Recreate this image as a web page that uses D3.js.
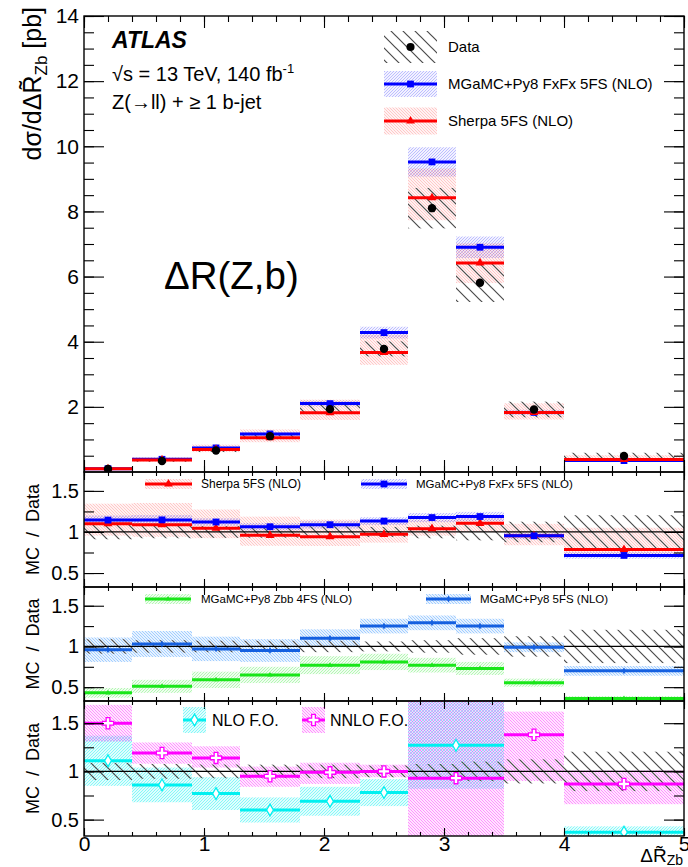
<!DOCTYPE html>
<html>
<head>
<meta charset="utf-8">
<script src="https://cdn.jsdelivr.net/npm/d3@7"></script>
<style>
  body { margin: 0; background: #fff; }
  svg text { font-family: "Liberation Sans", Arial, Helvetica, sans-serif; }
</style>
</head>
<body>
<svg id="chart" width="688" height="867"></svg>
<script>
// ---- binning ----
const binEdges = [0, 0.4, 0.9, 1.3, 1.8, 2.3, 2.7, 3.1, 3.5, 4, 5];
const foEdges  = [0, 0.4, 0.9, 1.3, 1.8, 2.3, 2.7, 3.5, 4, 5];

// ---- measured cross section [pb] ----
const dataXsec = [0.09, 0.34, 0.66, 1.10, 1.93, 3.78, 8.10, 5.81, 1.92, 0.49];
const dataErr  = [0.008, 0.026, 0.047, 0.077, 0.135, 0.23, 0.62, 0.59, 0.24, 0.10];

// ---- MGaMC+Py8 FxFx 5FS (NLO) ----
const fxfxXsec = [0.103, 0.39, 0.74, 1.17, 2.10, 4.28, 9.52, 6.90, 1.83, 0.35];
const fxfxErr  = [0.005, 0.02, 0.03, 0.05, 0.09, 0.18, 0.45, 0.33, 0.08, 0.02];

// ---- Sherpa 5FS (NLO) ----
const sherpaXsec = [0.099, 0.37, 0.69, 1.055, 1.82, 3.67, 8.42, 6.42, 1.83, 0.385];
const sherpaUp   = [0.022, 0.09, 0.15, 0.25, 0.40, 0.55, 0.90, 0.60, 0.28, 0.13];
const sherpaDn   = [0.013, 0.05, 0.08, 0.14, 0.22, 0.38, 0.69, 0.62, 0.22, 0.03];

// ---- ratio-only predictions (MC / Data) ----
const zbb4fsRatio = [0.43, 0.51, 0.59, 0.65, 0.77, 0.81, 0.77, 0.73, 0.555, 0.36];
const zbb4fsErr   = [0.06, 0.08, 0.10, 0.10, 0.11, 0.10, 0.09, 0.08, 0.05, 0.03];
const mg5fsRatio  = [0.96, 1.03, 0.97, 0.95, 1.10, 1.25, 1.29, 1.25, 0.99, 0.70];
const mg5fsErr    = [0.15, 0.16, 0.15, 0.14, 0.11, 0.09, 0.09, 0.09, 0.06, 0.06];

const nloRatio = [1.11, 0.86, 0.77, 0.60, 0.69, 0.78, 1.27, null, 0.37];
const nloErr   = [0.26, 0.18, 0.17, 0.13, 0.15, 0.14, 0.45, null, 0.06];
const nnloRatio = [1.50, 1.19, 1.14, 0.95, 0.99, 1.00, 0.93, 1.38, 0.87];
const nnloUp    = [0.19, 0.11, 0.12, 0.10, 0.10, 0.07, 0.85, 0.24, 0.14];
const nnloDn    = [0.19, 0.11, 0.10, 0.11, 0.12, 0.06, 0.70, 0.48, 0.21];

// ---- axis ticks ----
const xMajor = [0, 1, 2, 3, 4, 5];
const xMinor = d3.range(0, 5.001, 0.2);
const yMainMajor = [2, 4, 6, 8, 10, 12, 14];
const yMainMinor = d3.range(0.5, 14.001, 0.5);
const yRatioMajor = [0.5, 1, 1.5];
const yRatioMinor = [0.5, 0.75, 1, 1.25, 1.5];

// ---- colours ----
const RED = "#ff0000", BLUE = "#0000ff", GREEN = "#19e619", AZURE = "#1560e0",
      CYAN = "#00f0f0", MAGENTA = "#ff00ff";

// ---- layout ----
const L = 84, R = 684;
const P = {
  main: { top: 16,  bottom: 472 },
  r1:   { top: 472, bottom: 587 },
  r2:   { top: 587, bottom: 701 },
  r3:   { top: 701, bottom: 836 }
};
const x = d3.scaleLinear().domain([0, 5]).range([L, R]);
const yMain = d3.scaleLinear().domain([0, 14]).range([P.main.bottom, P.main.top]);
const ratioDomain = [0.33, 1.73];
const yR1 = d3.scaleLinear().domain(ratioDomain).range([P.r1.bottom, P.r1.top]);
const yR2 = d3.scaleLinear().domain(ratioDomain).range([P.r2.bottom, P.r2.top]);
const yR3 = d3.scaleLinear().domain(ratioDomain).range([P.r3.bottom, P.r3.top]);

const svg = d3.select("#chart");
const defs = svg.append("defs");

// hatch patterns
function hatch(id, { size, dir, stroke, width, opacity = 1, bg = null, bgOpacity = 0 }) {
  const p = defs.append("pattern").attr("id", id)
    .attr("patternUnits", "userSpaceOnUse").attr("width", size).attr("height", size);
  if (bg) p.append("rect").attr("width", size).attr("height", size)
    .attr("fill", bg).attr("fill-opacity", bgOpacity);
  const s = size;
  const d = dir === "\\"
    ? `M-1,${s - 1} l2,2 M0,0 l${s},${s} M${s - 1},-1 l2,2`
    : `M-1,1 l2,-2 M0,${s} l${s},${-s} M${s - 1},${s + 1} l2,-2`;
  p.append("path").attr("d", d).attr("stroke", stroke)
    .attr("stroke-width", width).attr("stroke-opacity", opacity);
}
hatch("hData",   { size: 12, dir: "\\", stroke: "#4a4a4a", width: 1.2 });
hatch("hFxfx",   { size: 3, dir: "/",  stroke: BLUE, width: 0.8, opacity: 0.28, bg: BLUE, bgOpacity: 0.05 });
hatch("hSherpa", { size: 3, dir: "\\", stroke: RED, width: 0.8, opacity: 0.22, bg: RED, bgOpacity: 0.05 });
hatch("hZbb",    { size: 3, dir: "/",  stroke: GREEN, width: 0.8, opacity: 0.35, bg: GREEN, bgOpacity: 0.07 });
hatch("h5fs",    { size: 3, dir: "\\", stroke: "#3c96ff", width: 0.9, opacity: 0.45, bg: "#3c96ff", bgOpacity: 0.12 });
hatch("hNlo",    { size: 3, dir: "/",  stroke: CYAN, width: 0.9, opacity: 0.45, bg: CYAN, bgOpacity: 0.12 });
hatch("hNnlo",   { size: 3, dir: "\\", stroke: MAGENTA, width: 0.9, opacity: 0.4, bg: MAGENTA, bgOpacity: 0.1 });

// clip regions per panel
Object.entries(P).forEach(([k, p]) => {
  defs.append("clipPath").attr("id", "clip-" + k).append("rect")
    .attr("x", L).attr("y", p.top).attr("width", R - L).attr("height", p.bottom - p.top);
});

const bins = edges => edges.slice(0, -1).map((e, i) => ({ i, x0: e, x1: edges[i + 1], xc: (e + edges[i + 1]) / 2 }));
const B = bins(binEdges);
const BF = bins(foEdges);

function bands(g, bs, y, lo, hi, fill) {
  g.append("g").selectAll("rect").data(bs.filter(b => lo[b.i] != null)).join("rect")
    .attr("x", b => x(b.x0)).attr("width", b => x(b.x1) - x(b.x0))
    .attr("y", b => y(hi[b.i])).attr("height", b => y(lo[b.i]) - y(hi[b.i]))
    .attr("fill", fill);
}
function steps(g, bs, y, val, color, w) {
  g.append("g").selectAll("line").data(bs.filter(b => val[b.i] != null)).join("line")
    .attr("x1", b => x(b.x0)).attr("x2", b => x(b.x1))
    .attr("y1", b => y(val[b.i])).attr("y2", b => y(val[b.i]))
    .attr("stroke", color).attr("stroke-width", w);
}
function markers(g, bs, y, val, type, size, fill, stroke, sw = 1) {
  g.append("g").selectAll("path").data(bs.filter(b => val[b.i] != null)).join("path")
    .attr("d", d3.symbol().type(type).size(size))
    .attr("transform", b => `translate(${x(b.xc)},${y(val[b.i])})`)
    .attr("fill", fill).attr("stroke", stroke).attr("stroke-width", sw);
}

// ---- axes / frames ----
function frame(p, y, yMaj, yMin, opt) {
  const g = svg.append("g");
  const clean = s => s.select(".domain").remove();
  const h = p.bottom - p.top;
  // y ticks, left and right
  g.append("g").attr("transform", `translate(${L},0)`)
    .call(d3.axisLeft(y).tickValues(yMin).tickSize(-10).tickFormat("")).call(clean);
  g.append("g").attr("transform", `translate(${R},0)`)
    .call(d3.axisRight(y).tickValues(yMin).tickSize(-10).tickFormat("")).call(clean);
  g.append("g").attr("transform", `translate(${R},0)`)
    .call(d3.axisRight(y).tickValues(yMaj).tickSize(-20).tickFormat("")).call(clean);
  const yl = g.append("g").attr("transform", `translate(${L},0)`)
    .call(d3.axisLeft(y).tickValues(yMaj).tickSize(-20).tickPadding(5).tickFormat(d3.format("~g"))).call(clean);
  yl.selectAll("text").attr("font-size", opt.yFont).attr("fill", "#000")
    .attr("font-family", "Liberation Sans, Arial, sans-serif");
  // x ticks, bottom and top
  g.append("g").attr("transform", `translate(0,${p.bottom})`)
    .call(d3.axisBottom(x).tickValues(xMinor).tickSize(-opt.xMinLen).tickFormat("")).call(clean);
  g.append("g").attr("transform", `translate(0,${p.top})`)
    .call(d3.axisTop(x).tickValues(xMinor).tickSize(-opt.xMinLen).tickFormat("")).call(clean);
  g.append("g").attr("transform", `translate(0,${p.bottom})`)
    .call(d3.axisBottom(x).tickValues(xMajor).tickSize(-opt.xMajLen).tickFormat("")).call(clean);
  g.append("g").attr("transform", `translate(0,${p.top})`)
    .call(d3.axisTop(x).tickValues(xMajor).tickSize(-opt.xMajLen).tickFormat("")).call(clean);
  g.selectAll(".tick line").attr("stroke", "#000").attr("stroke-width", 1.1);
  g.append("rect").attr("x", L).attr("y", p.top).attr("width", R - L).attr("height", h)
    .attr("fill", "none").attr("stroke", "#000").attr("stroke-width", 1.4);
  return g;
}

// ================= main panel =================
const gm = svg.append("g").attr("clip-path", "url(#clip-main)");
bands(gm, B, yMain, fxfxXsec.map((v, i) => v - fxfxErr[i]), fxfxXsec.map((v, i) => v + fxfxErr[i]), "url(#hFxfx)");
bands(gm, B, yMain, sherpaXsec.map((v, i) => v - sherpaDn[i]), sherpaXsec.map((v, i) => v + sherpaUp[i]), "url(#hSherpa)");
bands(gm, B, yMain, dataXsec.map((v, i) => v - dataErr[i]), dataXsec.map((v, i) => v + dataErr[i]), "url(#hData)");
steps(gm, B, yMain, fxfxXsec, BLUE, 3);
steps(gm, B, yMain, sherpaXsec, RED, 3);
markers(gm, B, yMain, fxfxXsec, d3.symbolSquare, 46, BLUE, "none");
markers(gm, B, yMain, sherpaXsec, d3.symbolTriangle, 34, RED, "none");
gm.append("g").selectAll("circle").data(B).join("circle")
  .attr("cx", b => x(b.xc)).attr("cy", b => yMain(dataXsec[b.i])).attr("r", 4.2).attr("fill", "#000");

frame(P.main, yMain, yMainMajor, yMainMinor, { yFont: 21, xMajLen: 12, xMinLen: 6 });

// ================= ratio panel 1 =================
const g1 = svg.append("g").attr("clip-path", "url(#clip-r1)");
const ratio = (mc, i) => mc / dataXsec[i];
bands(g1, B, yR1, sherpaXsec.map((v, i) => ratio(v - sherpaDn[i], i)), sherpaXsec.map((v, i) => ratio(v + sherpaUp[i], i)), "url(#hSherpa)");
bands(g1, B, yR1, fxfxXsec.map((v, i) => ratio(v - fxfxErr[i], i)), fxfxXsec.map((v, i) => ratio(v + fxfxErr[i], i)), "url(#hFxfx)");
bands(g1, B, yR1, dataXsec.map((v, i) => 1 - dataErr[i] / v), dataXsec.map((v, i) => 1 + dataErr[i] / v), "url(#hData)");
g1.append("line").attr("x1", L).attr("x2", R).attr("y1", yR1(1)).attr("y2", yR1(1)).attr("stroke", "#000").attr("stroke-width", 1.2);
steps(g1, B, yR1, sherpaXsec.map(ratio), RED, 3);
steps(g1, B, yR1, fxfxXsec.map(ratio), BLUE, 3);
markers(g1, B, yR1, sherpaXsec.map(ratio), d3.symbolTriangle, 34, RED, "none");
markers(g1, B, yR1, fxfxXsec.map(ratio), d3.symbolSquare, 46, BLUE, "none");
frame(P.r1, yR1, yRatioMajor, yRatioMinor, { yFont: 20, xMajLen: 8, xMinLen: 4 });

// ================= ratio panel 2 =================
const g2 = svg.append("g").attr("clip-path", "url(#clip-r2)");
bands(g2, B, yR2, zbb4fsRatio.map((v, i) => v - zbb4fsErr[i]), zbb4fsRatio.map((v, i) => v + zbb4fsErr[i]), "url(#hZbb)");
bands(g2, B, yR2, mg5fsRatio.map((v, i) => v - mg5fsErr[i]), mg5fsRatio.map((v, i) => v + mg5fsErr[i]), "url(#h5fs)");
bands(g2, B, yR2, dataXsec.map((v, i) => 1 - dataErr[i] / v), dataXsec.map((v, i) => 1 + dataErr[i] / v), "url(#hData)");
g2.append("line").attr("x1", L).attr("x2", R).attr("y1", yR2(1)).attr("y2", yR2(1)).attr("stroke", "#000").attr("stroke-width", 1.2);
steps(g2, B, yR2, zbb4fsRatio, GREEN, 3);
steps(g2, B, yR2, mg5fsRatio, AZURE, 3);
markers(g2, B, yR2, zbb4fsRatio, d3.symbolTriangle, 12, GREEN, "none");
markers(g2, B, yR2, mg5fsRatio, d3.symbolDiamond, 14, AZURE, "none");
frame(P.r2, yR2, yRatioMajor, yRatioMinor, { yFont: 20, xMajLen: 8, xMinLen: 4 });

// ================= ratio panel 3 =================
const g3 = svg.append("g").attr("clip-path", "url(#clip-r3)");
bands(g3, BF, yR3, nloRatio.map((v, i) => v == null ? null : v - nloErr[i]), nloRatio.map((v, i) => v == null ? null : v + nloErr[i]), "url(#hNlo)");
bands(g3, BF, yR3, nnloRatio.map((v, i) => v - nnloDn[i]), nnloRatio.map((v, i) => v + nnloUp[i]), "url(#hNnlo)");
bands(g3, B, yR3, dataXsec.map((v, i) => 1 - dataErr[i] / v), dataXsec.map((v, i) => 1 + dataErr[i] / v), "url(#hData)");
g3.append("line").attr("x1", L).attr("x2", R).attr("y1", yR3(1)).attr("y2", yR3(1)).attr("stroke", "#000").attr("stroke-width", 1.2);
steps(g3, BF, yR3, nloRatio, CYAN, 3);
steps(g3, BF, yR3, nnloRatio, MAGENTA, 3);
markers(g3, BF, yR3, nloRatio, d3.symbolDiamond, 40, "#fff", CYAN, 1.3);
markers(g3, BF, yR3, nnloRatio, d3.symbolCross, 70, "#fff", MAGENTA, 1.3);
frame(P.r3, yR3, yRatioMajor, yRatioMinor, { yFont: 20, xMajLen: 8, xMinLen: 4 });
// x tick labels below the last panel
const xl = svg.append("g").attr("transform", `translate(0,${P.r3.bottom})`)
  .call(d3.axisBottom(x).tickValues(xMajor).tickSize(0).tickPadding(0).tickFormat(d3.format("d")));
xl.select(".domain").remove();
xl.selectAll("text").attr("font-size", 21).attr("fill", "#000").attr("font-family", "Liberation Sans, Arial, sans-serif");

// ================= titles =================
const ttl = svg.append("text").attr("transform", "translate(41,7) rotate(-90)")
  .attr("text-anchor", "end").attr("font-size", 25);
ttl.append("tspan").text("d\u03c3/d\u0394R\u0303");
ttl.append("tspan").attr("font-size", 17).attr("dy", 6).text("Zb");
ttl.append("tspan").attr("dy", -6).text(" [pb]");

[P.r1, P.r2, P.r3].forEach(p => {
  svg.append("text").attr("transform", `translate(39,${(p.top + p.bottom) / 2}) rotate(-90)`)
    .attr("text-anchor", "middle").attr("font-size", 18).attr("xml:space", "preserve").text("MC  /  Data");
});

const xt = svg.append("text").attr("x", R - 1).attr("y", 862).attr("text-anchor", "end").attr("font-size", 19);
xt.append("tspan").text("\u0394R\u0303");
xt.append("tspan").attr("font-size", 14).attr("dy", 3).text("Zb");

// ATLAS labels
svg.append("text").attr("x", 112).attr("y", 48).attr("font-size", 23)
  .attr("font-weight", "bold").attr("font-style", "italic").text("ATLAS");
const l2 = svg.append("text").attr("x", 112).attr("y", 81).attr("font-size", 20);
l2.append("tspan").text("\u221as = 13 TeV, 140 fb");
l2.append("tspan").attr("font-size", 13).attr("dy", -8).text("-1");
svg.append("text").attr("x", 112).attr("y", 109).attr("font-size", 20).text("Z(\u2192ll) + \u2265 1 b-jet");
svg.append("text").attr("x", 164).attr("y", 289).attr("font-size", 38.5).text("\u0394R(Z,b)");

// ================= legends =================
function legendEntry(g, x0, x1, yc, h, fill, line, sym, text, tx, fs) {
  if (fill) g.append("rect").attr("x", x0).attr("y", yc - h / 2).attr("width", x1 - x0).attr("height", h).attr("fill", fill);
  if (line) g.append("line").attr("x1", x0).attr("x2", x1).attr("y1", yc).attr("y2", yc)
    .attr("stroke", line.color).attr("stroke-width", line.w);
  if (sym) g.append("path").attr("d", d3.symbol().type(sym.type).size(sym.size))
    .attr("transform", `translate(${(x0 + x1) / 2},${yc})`)
    .attr("fill", sym.fill).attr("stroke", sym.stroke || "none").attr("stroke-width", sym.sw || 1);
  g.append("text").attr("x", tx).attr("y", yc + fs * 0.36).attr("font-size", fs).text(text);
}
const lg = svg.append("g");
legendEntry(lg, 384, 437, 47, 32, "url(#hData)", null, { type: d3.symbolCircle, size: 52, fill: "#000" }, "Data", 448, 15);
legendEntry(lg, 384, 437, 84, 26, "url(#hFxfx)", { color: BLUE, w: 3 }, { type: d3.symbolSquare, size: 46, fill: BLUE }, "MGaMC+Py8 FxFx 5FS (NLO)", 448, 15);
legendEntry(lg, 384, 437, 121, 27, "url(#hSherpa)", { color: RED, w: 3 }, { type: d3.symbolTriangle, size: 34, fill: RED }, "Sherpa 5FS (NLO)", 448, 15);

legendEntry(lg, 145, 192, 484, 10, "url(#hSherpa)", { color: RED, w: 3 }, { type: d3.symbolTriangle, size: 34, fill: RED }, "Sherpa 5FS (NLO)", 201, 12);
legendEntry(lg, 361, 407, 484, 10, "url(#hFxfx)", { color: BLUE, w: 3 }, { type: d3.symbolSquare, size: 46, fill: BLUE }, "MGaMC+Py8 FxFx 5FS (NLO)", 416, 11.5);

legendEntry(lg, 145, 191, 599, 10, "url(#hZbb)", { color: GREEN, w: 3 }, { type: d3.symbolTriangle, size: 12, fill: GREEN }, "MGaMC+Py8 Zbb 4FS (NLO)", 201, 11.5);
legendEntry(lg, 426, 471, 599, 10, "url(#h5fs)", { color: AZURE, w: 3 }, { type: d3.symbolDiamond, size: 14, fill: AZURE }, "MGaMC+Py8 5FS (NLO)", 480, 11.5);

legendEntry(lg, 183, 206, 720, 26, "url(#hNlo)", { color: CYAN, w: 3 }, { type: d3.symbolDiamond, size: 40, fill: "#fff", stroke: CYAN, sw: 1.3 }, "NLO F.O.", 212, 16);
legendEntry(lg, 302, 325, 720, 26, "url(#hNnlo)", { color: MAGENTA, w: 3 }, { type: d3.symbolCross, size: 70, fill: "#fff", stroke: MAGENTA, sw: 1.3 }, "NNLO F.O.", 330, 16);
</script>
</body>
</html>
